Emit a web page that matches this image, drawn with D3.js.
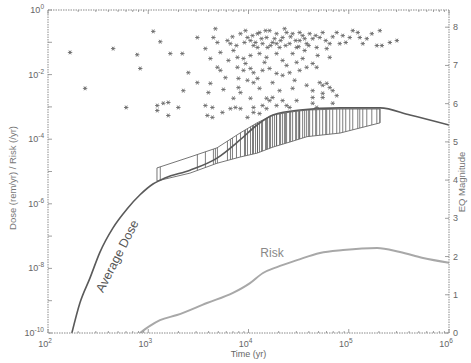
<!DOCTYPE html>
<html>
<head>
<meta charset="utf-8">
<script src="https://cdn.jsdelivr.net/npm/d3@7"></script>
<style>
  body { margin: 0; background: #fff; }
  text { font-family: "Liberation Sans", Arial, sans-serif; }
</style>
</head>
<body>
<svg id="chart" width="471" height="363"></svg>
<script>
// average dose curve (yr, rem/yr)
const avgDoseTime = [173, 208, 262, 330, 445, 614, 828, 1114, 1469, 2606, 4853, 8226, 12160, 17540, 32660, 81850, 205000, 408000, 1000000];
const avgDose = [1e-10, 8.5e-10, 5.0e-9, 3.2e-8, 1.8e-7, 6.9e-7, 1.9e-6, 4.1e-6, 6.3e-6, 1.1e-5, 2.6e-5, 9.5e-5, 2.75e-4, 5.6e-4, 8.0e-4, 9.3e-4, 9.3e-4, 5.6e-4, 2.75e-4];

// risk curve (yr, /yr)
const riskTime = [828, 1040, 1309, 1936, 3855, 7000, 10350, 13960, 19230, 30480, 51640, 87700, 191400, 324300, 550800, 1000000];
const risk = [1e-10, 1.66e-10, 2.5e-10, 3.6e-10, 8.5e-10, 1.74e-9, 3.5e-9, 7.2e-9, 1.1e-8, 1.8e-8, 3.0e-8, 3.7e-8, 4.3e-8, 3.2e-8, 2.1e-8, 1.5e-8];

// spread of realisations after large events
const bandTime = [1222, 2606, 4853, 8226, 12170, 17540, 25940, 38370, 81850, 205000];
const bandHigh = [1.29e-5, 2.8e-5, 5.4e-5, 1.55e-4, 3.2e-4, 5.6e-4, 6.9e-4, 8.0e-4, 8.6e-4, 8.6e-4];
const bandLow = [5.1e-6, 8.9e-6, 1.8e-5, 2.8e-5, 3.7e-5, 5.7e-5, 8.2e-5, 1.2e-4, 1.55e-4, 3.2e-4];

// earthquakes: log10(time in yr), magnitude
const quakeLogTime = [2.22, 2.65, 2.89, 2.92, 2.37, 2.78, 3.09, 3.05, 3.12, 3.49, 3.67, 3.65, 3.69, 3.79, 3.82, 3.92, 3.99, 4.09, 4.11, 4.21,
  4.28, 4.24, 4.34, 4.38, 4.44, 4.51, 4.54, 4.61, 4.64, 4.14, 4.09, 4.02, 4.28, 4.41, 4.48, 4.58, 4.68, 3.22, 3.34, 3.62,
  3.89, 3.95, 4.02, 4.11, 4.18, 4.28, 4.34, 4.38, 4.48, 4.54, 4.64, 3.69, 3.72, 3.89, 3.95, 4.02, 4.05, 4.14, 4.21, 4.28,
  4.41, 4.51, 4.58, 4.68, 3.40, 3.77, 3.90, 3.99, 4.05, 4.09, 3.49, 3.62, 3.35, 3.60, 3.75, 3.90, 3.92, 4.11, 4.31, 4.44,
  4.58, 4.64, 3.85, 4.02, 4.18, 4.24, 4.34, 4.48, 3.15, 3.20, 3.30, 3.09, 3.20, 3.57, 3.64, 3.59, 3.64, 3.74, 3.82, 3.87,
  3.92, 4.05, 4.05, 4.14, 4.18, 4.21, 3.99, 4.11, 4.28, 4.41, 4.74, 4.71, 4.81, 4.88, 4.94, 4.91, 5.01, 5.09, 5.11, 5.14,
  5.31, 5.28, 5.33, 5.41, 5.48, 4.78, 4.71, 4.74, 4.78, 4.81, 4.84, 4.74, 4.64, 4.88, 4.68, 4.38, 4.64, 4.74, 4.84, 3.85,
  4.05, 4.18, 4.31, 4.44, 4.56, 3.97, 4.16, 4.34, 4.46, 4.24, 3.80, 3.57, 3.72, 4.69, 4.81, 4.36, 4.51, 3.97, 4.19,
  3.84, 3.88, 3.96, 4.04, 4.07, 4.13, 4.17, 4.22, 4.26, 4.32, 4.37, 4.42, 4.47, 4.50, 4.56, 4.60, 4.67, 4.77, 4.84, 4.97,
  5.04, 5.18, 5.23];
const quakeMag = [7.34, 7.44, 7.28, 6.92, 6.40, 5.90, 5.95, 7.89, 7.62, 7.73, 7.96, 7.73, 7.60, 7.65, 7.57, 7.83, 7.73, 7.83, 7.86, 7.91,
  7.83, 7.60, 7.73, 7.86, 7.83, 7.86, 7.78, 7.83, 7.70, 7.57, 7.47, 7.65, 7.57, 7.57, 7.47, 7.57, 7.47, 7.31, 7.31, 7.18,
  7.21, 7.18, 7.26, 7.31, 7.21, 7.31, 7.13, 7.00, 7.08, 7.18, 7.05, 6.95, 6.87, 6.95, 6.87, 6.92, 6.81, 6.87, 6.92, 6.79,
  6.81, 6.87, 6.95, 6.95, 6.81, 6.68, 6.66, 6.61, 6.55, 6.66, 6.55, 6.53, 6.34, 6.29, 6.37, 6.42, 6.29, 6.40, 6.34, 6.40,
  6.48, 6.34, 6.14, 6.14, 6.14, 6.16, 6.08, 6.08, 6.01, 6.03, 5.90, 5.82, 5.69, 5.95, 5.90, 5.69, 5.64, 5.77, 5.87, 5.90,
  5.87, 5.90, 5.77, 5.95, 5.87, 6.08, 5.64, 5.74, 5.95, 5.90, 7.86, 7.73, 7.57, 7.86, 7.78, 7.57, 7.73, 7.86, 7.73, 7.57,
  7.91, 7.52, 7.52, 7.60, 7.65, 7.44, 6.55, 6.48, 6.53, 6.42, 6.34, 6.27, 6.16, 6.21, 5.90, 5.95, 6.01, 6.16, 6.01, 7.39,
  7.52, 7.73, 7.47, 7.31, 7.39, 7.05, 7.08, 6.74, 6.61, 6.55, 7.13, 7.44, 7.34, 7.26, 7.21, 7.96, 7.65, 7.91, 7.47,
  7.75, 7.52, 7.60, 7.78, 7.60, 7.70, 7.91, 7.52, 7.70, 7.65, 7.52, 7.75, 7.65, 7.49, 7.70, 7.52, 7.78, 7.65, 7.75, 7.60,
  7.91, 7.70, 7.83];

const xMajor = [1e2, 1e3, 1e4, 1e5, 1e6];
const yMajor = [1e0, 1e-2, 1e-4, 1e-6, 1e-8, 1e-10];
const magTicks = [0, 1, 2, 3, 4, 5, 6, 7, 8];
const bigQuake = 7.4;

const margin = { top: 10, right: 22, bottom: 30, left: 48 };
const W = 471, H = 363;
const x0 = margin.left, x1 = W - margin.right, y0 = H - margin.bottom, y1 = margin.top;

const svg = d3.select("#chart");

const x = d3.scaleLog().domain([1e2, 1e6]).range([x0, x1]);
const y = d3.scaleLog().domain([1e-10, 1]).range([y0, y1]);
const yMag = d3.scaleLinear().domain([0, 8.45]).range([y0, y1]);

svg.append("clipPath").attr("id", "clip")
  .append("rect").attr("x", x0).attr("y", y1).attr("width", x1 - x0).attr("height", y0 - y1);

const plot = svg.append("g").attr("clip-path", "url(#clip)");

// band edges, interpolated in log space
const bandHi = d3.scaleLog().domain(bandTime).range(bandHigh.map(Math.log10));
const bandLo = d3.scaleLog().domain(bandTime).range(bandLow.map(Math.log10));

const quakes = quakeLogTime.map((lt, i) => ({ t: Math.pow(10, lt), m: quakeMag[i] }));

// hatch: one drop line per large event inside the band
plot.append("g")
  .selectAll("line")
  .data(quakes.filter(d => d.m >= bigQuake && d.t >= bandTime[0] && d.t <= bandTime[bandTime.length - 1]))
  .enter().append("line")
  .attr("x1", d => x(d.t)).attr("x2", d => x(d.t))
  .attr("y1", d => y(Math.pow(10, bandHi(d.t))))
  .attr("y2", d => y(Math.pow(10, bandLo(d.t))))
  .attr("stroke", "#5e5e5e")
  .attr("stroke-width", 0.8);

const bandPts = bandTime.map((t, i) => [x(t), y(bandHigh[i])])
  .concat(bandTime.map((t, i) => [x(t), y(bandLow[i])]).reverse());
plot.append("path")
  .attr("d", d3.line().curve(d3.curveLinearClosed)(bandPts))
  .attr("fill", "none")
  .attr("stroke", "#666")
  .attr("stroke-width", 0.9);

const line = d3.line().curve(d3.curveMonotoneX);

plot.append("path")
  .attr("d", line(riskTime.map((t, i) => [x(t), y(risk[i])])))
  .attr("fill", "none")
  .attr("stroke", "#a8a8a8")
  .attr("stroke-width", 2);

plot.append("path")
  .attr("d", line(avgDoseTime.map((t, i) => [x(t), y(avgDose[i])])))
  .attr("fill", "none")
  .attr("stroke", "#5a5a5a")
  .attr("stroke-width", 1.6);

// earthquake markers
plot.append("g")
  .selectAll("path")
  .data(quakes)
  .enter().append("path")
  .attr("transform", d => `translate(${x(d.t)},${yMag(d.m)})`)
  .attr("d", "M-2.2,0H2.2M-1.1,-1.9L1.1,1.9M1.1,-1.9L-1.1,1.9")
  .attr("stroke", "#6a6a6a")
  .attr("stroke-width", 0.9)
  .attr("fill", "none");

// frame
svg.append("rect")
  .attr("x", x0).attr("y", y1).attr("width", x1 - x0).attr("height", y0 - y1)
  .attr("fill", "none")
  .attr("stroke", "#8a8a8a")
  .attr("stroke-width", 1)
  .attr("stroke-dasharray", "1.5,1");

// ticks
const xMinor = [];
xMajor.slice(0, -1).forEach(d => { for (let k = 2; k < 10; k++) xMinor.push(d * k); });

const axes = svg.append("g").attr("stroke", "#888").attr("stroke-width", 0.8);
[[xMajor, 4], [xMinor, 2]].forEach(([vals, len]) => {
  axes.selectAll(null).data(vals).enter().append("line")
    .attr("x1", d => x(d)).attr("x2", d => x(d)).attr("y1", y0).attr("y2", y0 - len);
  axes.selectAll(null).data(vals).enter().append("line")
    .attr("x1", d => x(d)).attr("x2", d => x(d)).attr("y1", y1).attr("y2", y1 + len);
});
const yDecades = d3.range(-10, 1).map(e => Math.pow(10, e));
axes.selectAll(null).data(yDecades).enter().append("line")
  .attr("x1", x0).attr("x2", x0 + 4).attr("y1", d => y(d)).attr("y2", d => y(d));
axes.selectAll(null).data(magTicks).enter().append("line")
  .attr("x1", x1).attr("x2", x1 - 4).attr("y1", d => yMag(d)).attr("y2", d => yMag(d));

// tick labels
function powLabel(sel, exp) {
  sel.append("tspan").text("10");
  sel.append("tspan").attr("dy", -4).attr("font-size", 6.5).text(exp);
}
svg.selectAll(null).data(xMajor).enter().append("text")
  .attr("x", d => x(d) - 3).attr("y", y0 + 14)
  .attr("text-anchor", "middle").attr("font-size", 9).attr("fill", "#666")
  .each(function (d) { powLabel(d3.select(this), Math.round(Math.log10(d))); });

svg.selectAll(null).data(yMajor).enter().append("text")
  .attr("x", x0 - 4).attr("y", d => y(d) + 3)
  .attr("text-anchor", "end").attr("font-size", 9).attr("fill", "#666")
  .each(function (d) { powLabel(d3.select(this), Math.round(Math.log10(d))); });

svg.selectAll(null).data(magTicks).enter().append("text")
  .attr("x", x1 + 4).attr("y", d => yMag(d) + 3)
  .attr("font-size", 9).attr("fill", "#666")
  .text(d => d);

// axis titles
svg.append("text")
  .attr("transform", `translate(${x0 + (x1 - x0) / 2},${H - 6})`)
  .attr("text-anchor", "middle").attr("font-size", 9).attr("fill", "#666")
  .text("Time (yr)");
svg.append("text")
  .attr("transform", `translate(16,178) rotate(-90)`)
  .attr("text-anchor", "middle").attr("font-size", 9.5).attr("fill", "#777")
  .text("Dose (rem/yr) / Risk (/yr)");
svg.append("text")
  .attr("transform", `translate(465,182) rotate(-90)`)
  .attr("text-anchor", "middle").attr("font-size", 9.5).attr("fill", "#777")
  .text("EQ Magnitude");

// curve labels
svg.append("text")
  .attr("transform", `translate(121,258) rotate(-63)`)
  .attr("text-anchor", "middle").attr("font-size", 12.5).attr("fill", "#555")
  .text("Average Dose");
svg.append("text")
  .attr("x", 272).attr("y", 257)
  .attr("text-anchor", "middle").attr("font-size", 12).attr("fill", "#888")
  .text("Risk");
</script>
</body>
</html>
